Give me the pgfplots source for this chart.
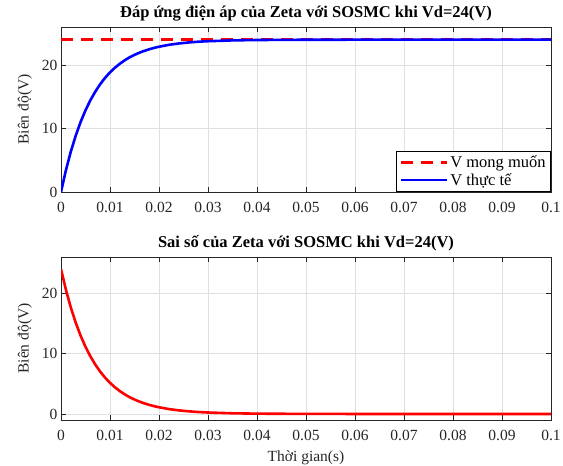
\documentclass[border=0pt]{standalone}
\usepackage{pgfplots}
\pgfplotsset{compat=1.18}
\usepackage{fontspec}
\setmainfont{Liberation Serif}

% thoi gian (s), dien ap (V), sai so (V)
\pgfplotstableread{
t      v      e
0      0      24
0.001  3.42   20.58
0.002  6.36   17.64
0.003  8.87   15.13
0.004  11.03  12.97
0.005  12.88  11.12
0.006  14.46  9.54
0.007  15.82  8.18
0.008  16.99  7.01
0.009  17.99  6.01
0.010  18.85  5.15
0.011  19.58  4.42
0.012  20.21  3.79
0.013  20.75  3.25
0.014  21.22  2.78
0.015  21.61  2.39
0.016  21.95  2.05
0.017  22.24  1.76
0.018  22.49  1.51
0.019  22.71  1.29
0.020  22.89  1.11
0.022  23.19  0.81
0.024  23.40  0.60
0.026  23.56  0.44
0.028  23.68  0.32
0.030  23.76  0.24
0.035  23.89  0.11
0.040  23.95  0.05
0.050  23.99  0.01
0.060  24.00  0.00
0.100  24.00  0.00
}\zetadata

\pgfplotsset{
  zetaax/.style={
    scale only axis, width=490pt,
    xmin=0, xmax=0.1,
    xtick={0,0.01,0.02,0.03,0.04,0.05,0.06,0.07,0.08,0.09,0.1},
    xticklabels={0,0.01,0.02,0.03,0.04,0.05,0.06,0.07,0.08,0.09,0.1},
    ytick={0,10,20},
    tick align=inside, tick pos=both,
    major tick length=5pt,
    grid=major, grid style={black!12, line width=0.5pt},
    axis line style={black!85, line width=0.6pt},
    tick style={black!85, line width=0.6pt},
    ticklabel style={font=\fontsize{15.5}{17}\selectfont, text=black!85},
    xticklabel style={yshift=-7pt},
    /pgf/number format/assume math mode=true,
    title style={font=\bfseries\fontsize{16.5}{18}\selectfont, yshift=-4pt},
    label style={font=\fontsize{15.5}{17}\selectfont, text=black!85},
    ylabel style={at={(axis description cs:-0.0735,0.5)}, anchor=center},
    xlabel style={yshift=-3pt},
  },
}

\begin{document}
\begin{tikzpicture}[x=1pt,y=1pt]
\path[use as bounding box] (0,0) rectangle (563,466);

\begin{axis}[zetaax, at={(61pt,274pt)}, anchor=south west, height=165pt,
  ymin=0, ymax=26,
  title={Đáp ứng điện áp của Zeta với SOSMC khi Vd=24(V)},
  ylabel={Biên độ(V)},
  legend style={at={(1,0)}, anchor=south east, draw=black, line width=0.6pt,
    fill=white, font=\fontsize{16.5}{19}\selectfont, inner sep=3pt, row sep=0pt},
  legend cell align=left,
  legend image code/.code={\draw[#1] (0pt,0pt) -- (46pt,0pt);},
]
\addplot[red, line width=2.6pt, dash pattern=on 12pt off 8pt] coordinates {(0,24) (0.1,24)};
\addplot[blue, line width=2.6pt] table[x=t, y=v] {\zetadata};
\legend{V mong muốn, V thực tế}
\end{axis}

\begin{axis}[zetaax, at={(61pt,46pt)}, anchor=south west, height=163pt,
  ymin=-1, ymax=26,
  title={Sai số của Zeta với SOSMC khi Vd=24(V)},
  ylabel={Biên độ(V)},
  xlabel={Thời gian(s)},
]
\addplot[red, line width=2.6pt] table[x=t, y=e] {\zetadata};
\end{axis}
\end{tikzpicture}
\end{document}
